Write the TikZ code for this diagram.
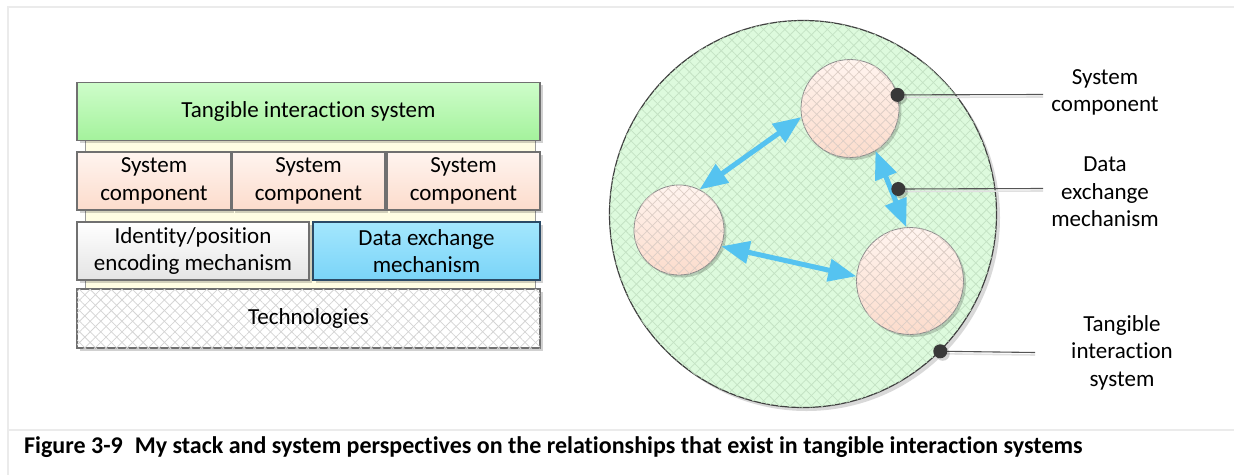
\documentclass[tikz,border=0pt]{standalone}
\usepackage{fontspec}
\setmainfont{Carlito}[Ligatures=CommonOff]
\usetikzlibrary{arrows.meta,patterns.meta,shadows}

\definecolor{framegray}{HTML}{EBEBEB}
\definecolor{greenT}{HTML}{CEFDCA}
\definecolor{greenB}{HTML}{A4F29C}
\definecolor{peachT}{HTML}{FFF4EF}
\definecolor{peachB}{HTML}{FCDCCC}
\definecolor{greyT}{HTML}{FFFFFF}
\definecolor{greyB}{HTML}{E4E4E4}
\definecolor{blueT}{HTML}{A4E7FD}
\definecolor{blueB}{HTML}{7AD4F8}
\definecolor{blueEdge}{HTML}{2B4A66}
\definecolor{boxEdge}{HTML}{707070}
\definecolor{arrowblue}{HTML}{55C3F0}
\definecolor{ringgreen}{HTML}{DDFADD}
\definecolor{ringhatch}{HTML}{C4E2C4}
\definecolor{dischatch}{HTML}{DDCEC6}
\definecolor{techhatch}{HTML}{D4D4D4}
\definecolor{cream}{HTML}{FFFDE3}
\definecolor{calloutgray}{HTML}{555555}
\definecolor{dotgray}{HTML}{383838}

\tikzset{
  txt/.style={font=\fontsize{23}{27.5}\selectfont, align=center, text=black},
  softshadow/.style={drop shadow={shadow xshift=2.5pt, shadow yshift=-2.5pt, fill=black, opacity=0.18}},
  stackbox/.style={txt, rectangle, draw=boxEdge, line width=1.1pt, inner sep=0pt, softshadow},
  hatchA/.style={pattern={Lines[angle=45,distance=7.5pt,line width=0.75pt]}, pattern color=#1},
  hatchB/.style={pattern={Lines[angle=-45,distance=7.5pt,line width=0.75pt]}, pattern color=#1},
  disc/.style={circle, draw=black!45, line width=0.8pt, inner sep=0pt,
    top color=peachT, bottom color=peachB, softshadow,
    postaction={hatchA=dischatch}, postaction={hatchB=dischatch}},
  link/.style={draw=arrowblue, line width=5pt,
    {Triangle[length=28pt,width=22pt]}-{Triangle[length=28pt,width=22pt]}},
  dotmark/.style={circle, fill=dotgray, minimum size=14pt, inner sep=0pt},
  callout/.style={draw=calloutgray, line width=1.1pt},
  calloutshade/.style={draw=black!12, line width=1.6pt},
  sidelabel/.style={txt}
}

\begin{document}
\begin{tikzpicture}[x=1pt,y=-1pt]
  \useasboundingbox (0,0) rectangle (1234,475);

  % light frame around the figure and the caption
  \draw[framegray, line width=1.2pt] (1234,7) -- (8,7) -- (8,475);
  \draw[framegray, line width=1.2pt] (8,430) -- (1234,430);

  % ---------- stack view ----------
  \fill[cream] (85,140) rectangle (535,290);
  \draw[black!40, line width=1pt] (85,140) -- (85,290) (535,140) -- (535,290);

  \node[stackbox, top color=greenT, bottom color=greenB, minimum width=463pt, minimum height=58pt]
    (tis) at (308.5,111.3) {Tangible interaction system};

  \node[stackbox, top color=peachT, bottom color=peachB, minimum width=154pt, minimum height=58pt]
    (sc1) at (154,181) {System\\component};
  \node[stackbox, top color=peachT, bottom color=peachB, minimum width=153pt, minimum height=58pt]
    (sc2) at (308.5,181) {System\\component};
  \node[stackbox, top color=peachT, bottom color=peachB, minimum width=153pt, minimum height=58pt]
    (sc3) at (463.5,181) {System\\component};

  \node[stackbox, top color=greyT, bottom color=greyB, minimum width=232pt, minimum height=58pt]
    (ipe) at (193,251) {Identity/position\\encoding mechanism};
  \node[stackbox, draw=blueEdge, top color=blueT, bottom color=blueB, minimum width=227pt, minimum height=58pt]
    (dem) at (426.5,251) {Data exchange\\mechanism};

  \node[stackbox, fill=white, minimum width=463pt, minimum height=59pt,
        postaction={hatchA=techhatch}, postaction={hatchB=techhatch}]
    (tech) at (308.5,318.5) {Technologies};

  % ---------- system view ----------
  \node[circle, draw=black!75, line width=1.2pt, fill=ringgreen, minimum size=387pt, inner sep=0pt,
        drop shadow={shadow xshift=3.5pt, shadow yshift=-3.5pt, fill=black, opacity=0.15},
        postaction={hatchA=ringhatch}, postaction={hatchB=ringhatch}]
    (ring) at (803,214) {};

  \node[disc, minimum size=98pt]  (cA) at (850,108.5) {};
  \node[disc, minimum size=90pt]  (cB) at (679,230) {};
  \node[disc, minimum size=107pt] (cC) at (910,281) {};

  \draw[link] (cA.190) -- (cB.63);
  \draw[link] (cB.339) -- (cC.175);
  \draw[link] (cA.301) -- (cC.94);

  % callouts
  \coordinate (e1) at (1043,94.5);
  \coordinate (e2) at (1043,188.5);
  \coordinate (e3) at (1035,352.5);

  \coordinate (d1) at (cA.16);
  \coordinate (d2) at (898.3,189);
  \coordinate (d3) at (ring.-45);

  \draw[calloutshade] ([yshift=-2.5pt]d1) -- ([yshift=-2.5pt]e1);
  \draw[calloutshade] ([yshift=-2.5pt]d2) -- ([yshift=-2.5pt]e2);
  \draw[calloutshade] ([yshift=-2.5pt]d3) -- ([yshift=-2.5pt]e3);
  \draw[callout] (d1) -- (e1);
  \draw[callout] (d2) -- (e2);
  \draw[callout] (d3) -- (e3);
  \node[dotmark, softshadow] (m1) at (d1) {};
  \node[dotmark, softshadow] (m2) at (d2) {};
  \node[dotmark, softshadow] (m3) at (d3) {};

  \node[sidelabel] (l1) at (1105,92.5) {System\\component};
  \node[sidelabel] (l2) at (1105,192) {Data\\exchange\\mechanism};
  \node[sidelabel] (l3) at (1122,352.5) {Tangible\\interaction\\system};

  % caption
  \node[anchor=west, inner sep=0pt, font=\bfseries\fontsize{24}{28}\selectfont]
    (cap) at (24,447) {Figure 3-9\hspace{0.5em}My stack and system perspectives on the relationships that exist in tangible interaction systems};
\end{tikzpicture}
\end{document}
